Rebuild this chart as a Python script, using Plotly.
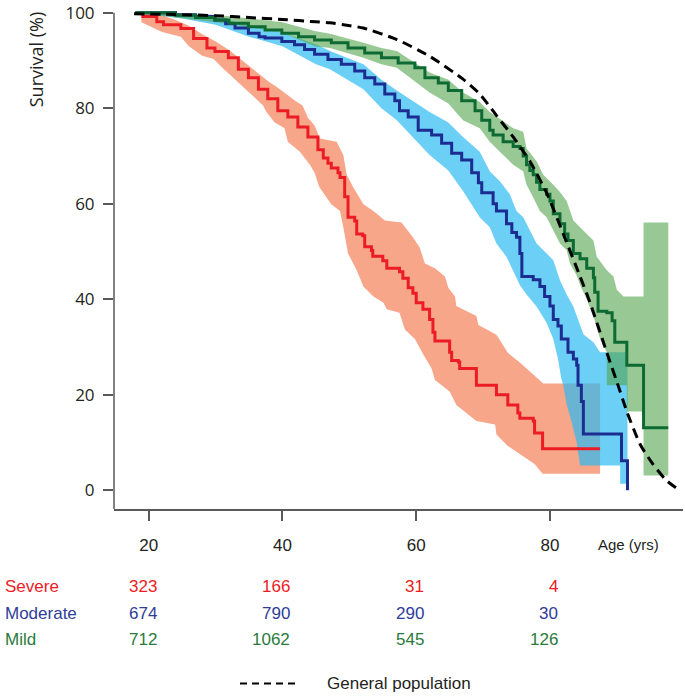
import plotly.graph_objects as go

# ---------------- data ----------------
sev_age = [18.9, 21.2, 22.2, 24.8, 26.7, 28.7, 29.9, 31.9, 33.4, 34.9, 36.4, 37.8, 39.3, 40.8, 42.3,
           43.8, 45.3, 46.1, 46.8, 47.3, 48.3, 48.6, 49.3, 49.8, 50.8, 51.1, 52.0, 52.3, 53.3, 53.5,
           55.0, 55.6, 57.5, 58.0, 58.8, 59.5, 60.0, 61.0, 62.0, 62.5, 62.8, 65.0, 65.3, 66.3, 66.5,
           69.0, 72.0, 73.7, 75.2, 75.5, 77.5, 77.7, 78.9, 87.5]
sev_surv = [99.2, 98.1, 97.5, 96.7, 94.6, 92.6, 91.9, 90.6, 88.2, 86.4, 84.0, 82.0, 79.5, 78.2, 76.1,
            74.0, 71.3, 69.6, 68.5, 67.5, 66.5, 65.5, 61.5, 57.2, 56.4, 53.7, 53.3, 51.0, 50.2, 49.0,
            48.1, 46.5, 45.8, 44.4, 42.4, 41.3, 39.3, 37.9, 35.8, 33.1, 31.3, 28.9, 27.2, 26.9, 25.5,
            22.0, 20.0, 17.9, 16.2, 15.1, 14.5, 12.0, 8.7, 8.7]
sev_up_age = [18.9, 22.0, 24.0, 26.0, 28.0, 30.0, 32.0, 34.0, 36.0, 38.0, 39.1, 40.5, 42.0, 43.0, 43.8,
              44.8, 45.6, 48.1, 49.1, 49.6, 50.6, 52.1, 53.6, 55.3, 57.8, 59.5, 60.5, 61.3, 62.8, 64.3,
              64.8, 65.8, 66.0, 69.0, 69.3, 72.0, 73.7, 75.5, 77.5, 79.0, 87.5]
sev_up = [100, 99.5, 98.5, 97.3, 95.5, 94.0, 92.2, 90.0, 87.8, 85.5, 84.5, 83.0, 81.5, 80.6, 78.0,
          76.4, 73.7, 73.0, 70.2, 66.1, 63.4, 59.9, 58.5, 56.5, 56.1, 53.0, 50.9, 47.5, 46.5, 44.8,
          42.4, 40.6, 38.6, 36.5, 34.6, 32.6, 28.8, 26.8, 24.3, 22.4, 22.4]
sev_lo_age = [18.9, 22.0, 24.8, 26.0, 28.0, 29.7, 31.0, 32.6, 34.7, 36.0, 37.1, 37.6, 38.8, 40.3, 40.8,
              42.6, 44.1, 44.8, 45.5, 47.3, 48.6, 49.1, 49.8, 51.1, 52.1, 53.6, 55.1, 55.6, 57.5, 58.3,
              59.8, 61.0, 62.3, 62.8, 65.0, 66.0, 69.0, 71.8, 72.0, 73.7, 75.5, 77.7, 78.9, 87.5]
sev_lo = [98.0, 96.0, 95.0, 93.0, 91.0, 90.3, 88.5, 86.4, 83.7, 82.0, 80.6, 79.2, 77.1, 75.8, 73.0,
          70.9, 68.2, 66.5, 63.5, 59.9, 58.5, 55.1, 49.6, 46.1, 42.7, 40.6, 39.3, 37.9, 37.2, 33.7,
          31.7, 28.6, 25.5, 23.1, 20.7, 17.9, 14.5, 13.8, 11.7, 9.3, 7.6, 5.5, 3.5, 3.5]

mod_age = [18.0, 24.0, 27.0, 29.9, 31.5, 32.9, 34.9, 36.5, 37.4, 39.9, 41.8, 43.3, 44.8, 46.8, 48.8,
           50.8, 52.3, 53.8, 55.3, 56.8, 57.5, 58.8, 60.3, 62.3, 63.8, 65.3, 66.8, 68.3, 69.3, 69.8,
           71.5, 72.0, 73.5, 74.3, 75.0, 75.5, 75.8, 77.5, 78.5, 79.2, 80.0, 80.5, 81.2, 81.7, 82.7,
           83.5, 84.0, 84.2, 84.7, 85.0, 90.7, 91.6]
mod_surv = [100, 99.6, 99.2, 98.5, 97.7, 96.8, 95.7, 95.0, 94.7, 94.0, 93.3, 92.3, 91.3, 90.2, 89.2,
            87.8, 86.4, 85.1, 83.0, 81.6, 79.5, 78.2, 75.4, 74.4, 72.7, 70.6, 69.2, 66.5, 64.4, 62.3,
            60.0, 58.5, 55.8, 54.0, 53.0, 49.6, 44.8, 44.1, 42.7, 40.6, 38.6, 35.8, 34.4, 31.7, 28.9,
            27.5, 26.2, 22.0, 18.6, 11.8, 6.2, 0]
mod_up_age = [18.0, 25.0, 30.0, 35.0, 40.0, 45.0, 47.1, 52.1, 54.8, 57.1, 62.0, 64.8, 67.0, 69.5, 71.0,
              72.5, 74.0, 75.0, 76.0, 77.0, 78.0, 79.5, 80.5, 81.5, 82.5, 83.5, 84.5, 85.0, 86.5, 87.5,
              91.6]
mod_up = [100, 99.8, 99.0, 97.5, 95.8, 93.4, 92.0, 89.2, 86.0, 83.7, 79.2, 77.0, 74.0, 70.9, 66.8,
          64.7, 62.0, 58.5, 57.2, 54.4, 51.7, 49.6, 48.2, 44.0, 41.0, 38.5, 34.8, 32.7, 31.0, 28.9,
          28.9]
mod_lo_age = [18.0, 25.0, 30.0, 35.0, 40.0, 45.0, 47.1, 52.1, 54.8, 57.1, 62.0, 64.8, 67.0, 69.5, 71.0,
              72.0, 73.5, 74.5, 75.5, 76.5, 78.0, 79.5, 80.5, 81.2, 81.7, 82.0, 82.5, 83.3, 84.0, 84.5,
              90.5, 90.5, 91.6]
mod_lo = [100, 98.8, 97.5, 95.0, 93.0, 89.2, 88.2, 84.0, 80.0, 77.5, 70.2, 67.0, 62.7, 57.2, 55.1,
          51.7, 48.9, 46.0, 43.0, 41.0, 38.5, 35.1, 31.7, 27.5, 23.4, 22.0, 18.0, 14.0, 10.0, 5.2,
          5.2, 1.4, 1.4]

mild_age = [18.0, 24.0, 27.0, 29.9, 32.0, 34.9, 37.4, 39.9, 42.4, 44.8, 47.3, 49.8, 52.3, 54.8, 57.3,
            59.8, 61.3, 63.3, 64.8, 66.8, 68.8, 69.8, 71.0, 71.5, 73.0, 74.5, 75.5, 76.0, 76.5, 77.0,
            77.5, 78.0, 78.5, 79.5, 80.0, 80.5, 81.5, 82.2, 82.7, 83.5, 84.5, 85.5, 86.5, 86.7, 87.2,
            88.5, 89.3, 89.7, 91.5, 94.0, 97.7]
mild_surv = [100, 99.5, 99.0, 98.5, 97.8, 97.1, 96.4, 95.7, 95.0, 94.3, 93.7, 92.6, 91.6, 90.6, 89.5,
             88.5, 86.4, 85.3, 83.7, 81.6, 79.5, 77.5, 75.4, 74.4, 73.0, 72.0, 71.6, 70.0, 68.2, 67.0,
             66.1, 64.5, 63.0, 62.0, 60.6, 57.9, 55.8, 53.7, 52.3, 49.6, 48.5, 46.5, 44.5, 41.5, 37.5,
             37.2, 35.5, 31.0, 26.2, 13.1, 13.1]
mild_up_age = [18.0, 30.0, 35.0, 40.0, 44.8, 47.1, 52.1, 54.8, 57.1, 62.0, 64.8, 67.0, 69.5, 71.0, 72.5,
               74.5, 76.0, 76.5, 78.0, 79.0, 80.5, 81.5, 82.5, 83.5, 84.5, 85.5, 86.5, 87.0, 88.5, 89.5,
               90.0, 91.0, 94.0, 94.0, 97.7]
mild_up = [100, 99.6, 98.8, 98.0, 96.2, 95.6, 93.7, 92.6, 92.0, 87.5, 86.0, 83.3, 81.3, 79.2, 77.8,
           75.8, 75.1, 71.6, 68.9, 66.1, 64.0, 62.5, 60.6, 56.5, 55.1, 53.7, 52.3, 48.9, 46.1, 44.8,
           42.0, 40.6, 40.6, 56.1, 56.1]
mild_lo_age = [18.0, 30.0, 35.0, 40.0, 44.8, 47.1, 52.1, 54.8, 57.1, 62.0, 64.8, 67.0, 69.5, 71.0, 72.5,
               74.5, 76.0, 76.5, 77.5, 78.5, 79.5, 80.5, 81.5, 82.5, 83.0, 84.0, 84.5, 85.5, 86.5, 87.5,
               88.5, 88.5, 91.5, 91.5, 94.0, 94.0, 97.7]
mild_lo = [100, 98.0, 97.0, 95.8, 93.0, 92.6, 90.6, 89.2, 88.5, 83.3, 81.0, 77.5, 75.8, 73.0, 70.9,
           68.2, 66.8, 64.0, 61.3, 58.5, 57.2, 54.4, 51.7, 50.3, 47.5, 45.0, 43.0, 40.0, 36.5, 31.7,
           28.9, 22.0, 22.0, 16.5, 16.5, 3.1, 3.1]

gen_age = [17.8, 25, 30, 35, 40, 45, 47.1, 50.1, 52.1, 57.1, 62.0, 67.0, 69.5, 72.0, 74.5, 77.0,
           79.5, 82.0, 84.5, 86.0, 88.5, 90.5, 91.5, 93.5, 95.4, 97.4, 99.4]
gen_surv = [99.8, 99.6, 99.4, 99.0, 98.6, 98.1, 97.9, 97.3, 96.8, 94.4, 90.9, 86.1, 83.0, 78.5, 74.0,
            68.9, 62.3, 53.7, 44.8, 39.3, 28.9, 20.7, 16.5, 9.6, 5.5, 2.1, 0]

x_ticks = [20, 40, 60, 80]
y_ticks = [0, 20, 40, 60, 80, 100]
groups = ["Severe", "Moderate", "Mild"]
sev_at_risk = [323, 166, 31, 4]
mod_at_risk = [674, 790, 290, 30]
mild_at_risk = [712, 1062, 545, 126]
at_risk = {"Severe": sev_at_risk, "Moderate": mod_at_risk, "Mild": mild_at_risk}

# ---------------- styles ----------------
text_col = {"Severe": "#ec1c24", "Moderate": "#2e3d98", "Mild": "#2a7a3c"}
line_col = {"Severe": "#ec1c24", "Moderate": "#1c2d92", "Mild": "#0d6a32"}
band_col = {"Severe": "#f7a68a", "Moderate": "rgba(46,186,242,0.7)", "Mild": "rgba(83,163,75,0.6)"}

X_RANGE = [14.8, 99.9]
Y_RANGE = [-3.9, 101]
L, R, T, B = 114, 2, 1, 187
W, H = 685, 696
PW, PH = W - L - R, H - T - B


def px2paper_x(px):
    return (px - L) / PW


def px2paper_y(py):
    return (H - B - py) / PH


fig = go.Figure()

bands = [
    ("Severe", sev_lo_age, sev_lo, sev_up_age, sev_up),
    ("Moderate", mod_lo_age, mod_lo, mod_up_age, mod_up),
    ("Mild", mild_lo_age, mild_lo, mild_up_age, mild_up),
]
for name, la, lv, ua, uv in bands:
    fig.add_trace(go.Scatter(x=la, y=lv, mode="lines", line=dict(width=0),
                             showlegend=False, hoverinfo="skip"))
    fig.add_trace(go.Scatter(x=ua, y=uv, mode="lines", line=dict(width=0),
                             fill="tonexty", fillcolor=band_col[name],
                             showlegend=False, hoverinfo="skip"))

curves = [("Severe", sev_age, sev_surv), ("Moderate", mod_age, mod_surv), ("Mild", mild_age, mild_surv)]
for name, a, s in curves:
    fig.add_trace(go.Scatter(x=a, y=s, mode="lines", name=name,
                             line=dict(color=line_col[name], width=3, shape="hv"),
                             showlegend=False))

fig.add_trace(go.Scatter(x=gen_age, y=gen_surv, mode="lines", name="General population",
                         line=dict(color="black", width=3, dash="10px,6px", shape="spline", smoothing=0.6),
                         showlegend=False))

# spine for y axis (up to 100)
fig.add_shape(type="line", xref="paper", yref="y", x0=0, x1=0, y0=Y_RANGE[0], y1=100,
              line=dict(color="#58595b", width=1.5))

annotations = []
annotations.append(dict(text="Survival (%)", xref="paper", yref="paper",
                        x=px2paper_x(36), y=px2paper_y(53), textangle=-90,
                        xanchor="center", yanchor="middle", showarrow=False,
                        font=dict(family="Open Sans", size=18, color="#231f20")))
annotations.append(dict(text="Age (yrs)", xref="paper", yref="paper",
                        x=px2paper_x(628), y=px2paper_y(545), xanchor="center", yanchor="middle",
                        showarrow=False, font=dict(family="Liberation Sans", size=15, color="#231f20")))
row_y = {"Severe": 588, "Moderate": 614.5, "Mild": 641}
for g in groups:
    annotations.append(dict(text=g, xref="paper", yref="paper", x=px2paper_x(3),
                            y=px2paper_y(row_y[g]), xanchor="left", yanchor="middle", showarrow=False,
                            font=dict(family="Liberation Sans", size=17, color=text_col[g])))
    for xt, n in zip(x_ticks, at_risk[g]):
        annotations.append(dict(text=str(n), xref="x", yref="paper", x=xt, xshift=10,
                                y=px2paper_y(row_y[g]), xanchor="right", yanchor="middle",
                                showarrow=False,
                                font=dict(family="Liberation Sans", size=17, color=text_col[g])))
fig.add_shape(type="line", xref="paper", yref="paper", x0=px2paper_x(240), x1=px2paper_x(300),
              y0=px2paper_y(686), y1=px2paper_y(686),
              line=dict(color="black", width=2, dash="7px,5px"))
annotations.append(dict(text="General population", xref="paper", yref="paper",
                        x=px2paper_x(325), y=px2paper_y(686), xanchor="left", yanchor="middle",
                        showarrow=False, font=dict(family="Liberation Sans", size=17, color="#231f20")))

fig.update_layout(
    width=W, height=H, margin=dict(l=L, r=R, t=T, b=B, pad=0),
    paper_bgcolor="white", plot_bgcolor="white",
    annotations=annotations,
    xaxis=dict(range=X_RANGE, tickvals=x_ticks, ticks="outside", ticklen=10, tickwidth=1.5,
               tickcolor="#58595b", showline=True, linecolor="#58595b", linewidth=1.5,
               showgrid=False, zeroline=False, ticklabelstandoff=10,
               tickfont=dict(family="Liberation Sans", size=17, color="#231f20")),
    yaxis=dict(range=Y_RANGE, tickvals=y_ticks, ticks="outside", ticklen=10, tickwidth=1.5,
               tickcolor="#58595b", showline=False, showgrid=False, zeroline=False,
               ticklabelstandoff=5, ticklabeloverflow="allow",
               tickfont=dict(family="Open Sans", size=17, color="#231f20")),
)

fig.write_html("out.html", config={"displayModeBar": False},
               post_script="document.body.style.margin='0px';")
